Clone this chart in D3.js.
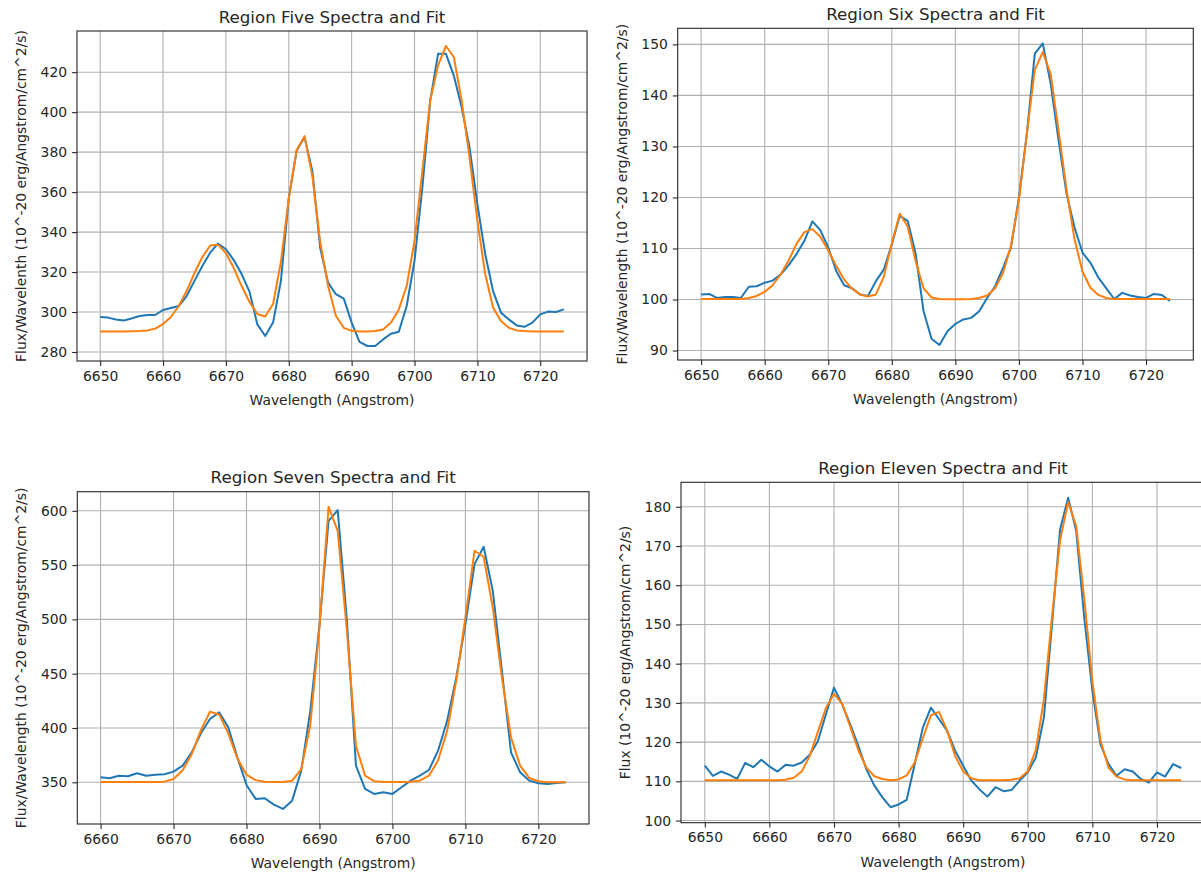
<!DOCTYPE html>
<html>
<head>
<meta charset="utf-8">
<script src="https://cdn.jsdelivr.net/npm/d3@7"></script>
<style>
  body { margin: 0; background: #fff; }
  svg { display: block; }
  text { font-family: "DejaVu Sans", sans-serif; fill: #262626; }
</style>
</head>
<body>
<svg id="fig" width="1201" height="878"></svg>
<script>
// Wavelength sampling (Angstrom), 1.25 A steps
const waveFull = [6650, 6651.25, 6652.5, 6653.75, 6655, 6656.25, 6657.5, 6658.75, 6660, 6661.25,
  6662.5, 6663.75, 6665, 6666.25, 6667.5, 6668.75, 6670, 6671.25, 6672.5, 6673.75,
  6675, 6676.25, 6677.5, 6678.75, 6680, 6681.25, 6682.5, 6683.75, 6685, 6686.25,
  6687.5, 6688.75, 6690, 6691.25, 6692.5, 6693.75, 6695, 6696.25, 6697.5, 6698.75,
  6700, 6701.25, 6702.5, 6703.75, 6705, 6706.25, 6707.5, 6708.75, 6710, 6711.25,
  6712.5, 6713.75, 6715, 6716.25, 6717.5, 6718.75, 6720, 6721.25, 6722.5, 6723.75];
const waveShort = [6660, 6661.25, 6662.5, 6663.75, 6665, 6666.25, 6667.5, 6668.75, 6670, 6671.25,
  6672.5, 6673.75, 6675, 6676.25, 6677.5, 6678.75, 6680, 6681.25, 6682.5, 6683.75,
  6685, 6686.25, 6687.5, 6688.75, 6690, 6691.25, 6692.5, 6693.75, 6695, 6696.25,
  6697.5, 6698.75, 6700, 6701.25, 6702.5, 6703.75, 6705, 6706.25, 6707.5, 6708.75,
  6710, 6711.25, 6712.5, 6713.75, 6715, 6716.25, 6717.5, 6718.75, 6720, 6721.25,
  6722.5, 6723.75];

// Region Five: observed spectrum and fitted model
const fiveSpectrum = [297.5, 297.2, 296.3, 295.8, 296.8, 298, 298.5, 298.5, 301, 302,
  303, 308, 315.6, 323, 329.7, 334.3, 331.4, 326, 319, 310.2,
  293.8, 288, 294.7, 315.6, 357, 380.7, 387.5, 370.5, 332, 314.7,
  308.9, 306.7, 294.7, 285.1, 283, 283, 286.3, 289.1, 290.1, 303,
  325.6, 362.4, 405.8, 429.2, 429.2, 418.3, 402.4, 382.4, 354, 328.9,
  310.5, 299.7, 296.3, 293.3, 292.6, 294.7, 298.8, 300.2, 300, 301.3];
const fiveFit = [290.3, 290.3, 290.3, 290.3, 290.4, 290.5, 290.8, 291.7, 294, 297.5,
  303, 310.5, 319.5, 327.5, 333.3, 333.7, 329.5, 322, 313, 305,
  299, 297.8, 304, 325, 357, 381, 388, 368, 335, 313,
  298, 292.1, 290.6, 290.3, 290.3, 290.5, 291.3, 294.7, 301.3, 313,
  335.6, 370.7, 405.8, 423.4, 433.1, 427.6, 405.8, 377.4, 345.6, 318.9,
  302.2, 295.5, 292.1, 290.8, 290.5, 290.3, 290.3, 290.3, 290.3, 290.3];

// Region Six
const sixSpectrum = [101, 101.1, 100.3, 100.5, 100.5, 100.3, 102.5, 102.6, 103.3, 103.7,
  104.9, 106.7, 108.9, 111.5, 115.3, 113.6, 110.2, 105.6, 102.8, 102.2,
  101, 100.7, 103.6, 105.9, 110.8, 116.4, 115.4, 109, 97.7, 92.3,
  91.1, 93.8, 95.2, 96.1, 96.4, 97.7, 100.3, 102.6, 106.2, 110.2,
  120, 132.5, 148.2, 150.2, 142.3, 131.1, 120.7, 114.1, 109.2, 107.2,
  104.3, 102.2, 100.1, 101.3, 100.8, 100.5, 100.3, 101.1, 100.9, 99.7];
const sixFit = [100.1, 100.1, 100.1, 100.1, 100.1, 100.1, 100.3, 100.7, 101.5, 102.8,
  104.9, 107.6, 110.9, 113.2, 113.8, 112.3, 109.6, 106.6, 103.9, 102.1,
  101, 100.6, 101, 104.5, 111, 116.8, 114.3, 107.5, 102.2, 100.4,
  100.1, 100.05, 100.05, 100.05, 100.1, 100.3, 100.8, 102.2, 105.2, 110.5,
  119.5, 132.5, 145, 148.5, 144.2, 133, 121.5, 111.8, 105.5, 102.3,
  100.9, 100.3, 100.1, 100.1, 100.1, 100.1, 100.1, 100.1, 100.1, 100.1];

// Region Seven (starts at 6660 A)
const sevenSpectrum = [354.6, 353.7, 356.1, 355.5, 358.3, 356.1, 357, 357.4, 359.8, 365.3,
  377.6, 395.1, 408.3, 414.4, 400.6, 373, 347.5, 334.7, 335.3, 329.4,
  325.5, 333.1, 360.7, 416, 495, 590.8, 600.6, 500, 365.3, 343.9,
  339.3, 340.8, 339.3, 345.4, 351.5, 356.1, 361.3, 379.1, 406.7, 446.6,
  495.7, 550.9, 566.9, 526.4, 452.8, 377.6, 359.2, 351.5, 349.1, 348.5,
  349.4, 350];
const sevenFit = [350.2, 350.2, 350.2, 350.2, 350.2, 350.2, 350.2, 350.6, 353, 361,
  376, 398, 415, 412.5, 395, 372, 357, 352, 350.6, 350.2,
  350.3, 351.5, 362, 403, 492.6, 603.7, 581.6, 490, 383.7, 356.1,
  351, 350.2, 350.2, 350.2, 350.4, 351.5, 356.1, 370, 397.5, 443.6,
  501.8, 563.2, 557.7, 511, 446.6, 391.4, 365.3, 354, 351, 350.1,
  350.1, 350.1];

// Region Eleven
const elevenSpectrum = [114, 111.4, 112.5, 111.7, 110.6, 114.7, 113.6, 115.5, 113.8, 112.5,
  114.2, 114, 114.8, 116.8, 120.2, 127.1, 133.9, 129.7, 124.6, 119.1,
  113.1, 108.9, 105.9, 103.4, 104.1, 105.3, 114.4, 123.7, 128.8, 125.9,
  122.9, 117.8, 114, 110.2, 108, 106.1, 108.5, 107.5, 107.8, 110.2,
  112.3, 116.1, 126.3, 150, 174.2, 182.3, 173.8, 151.7, 133.1, 119.5,
  114.4, 111.4, 113.1, 112.5, 110.6, 109.7, 112.3, 111.2, 114.4, 113.4];
const elevenFit = [110.3, 110.3, 110.3, 110.3, 110.3, 110.3, 110.3, 110.3, 110.3, 110.3,
  110.4, 110.9, 112.5, 116.5, 122.6, 128.7, 132.3, 129.8, 124, 118,
  113.5, 111.3, 110.6, 110.3, 110.5, 111.5, 114.8, 121, 126.8, 127.7,
  123, 116.5, 112.5, 110.8, 110.3, 110.3, 110.3, 110.3, 110.4, 110.8,
  112.6, 118, 131, 152, 171.5, 181.2, 175, 156.5, 135.5, 120.5,
  113.5, 111.2, 110.5, 110.3, 110.3, 110.3, 110.3, 110.3, 110.3, 110.3];

// Tick values
const xTicksFull = [6650, 6660, 6670, 6680, 6690, 6700, 6710, 6720];
const xTicksShort = [6660, 6670, 6680, 6690, 6700, 6710, 6720];
const fiveTicks = [280, 300, 320, 340, 360, 380, 400, 420];
const sixTicks = [90, 100, 110, 120, 130, 140, 150];
const sevenTicks = [350, 400, 450, 500, 550, 600];
const elevenTicks = [100, 110, 120, 130, 140, 150, 160, 170, 180];

const titles = ["Region Five Spectra and Fit", "Region Six Spectra and Fit",
  "Region Seven Spectra and Fit", "Region Eleven Spectra and Fit"];
const yLabels = ["Flux/Wavelenth (10^-20 erg/Angstrom/cm^2/s)",
  "Flux/Wavelength (10^-20 erg/Angstrom/cm^2/s)",
  "Flux/Wavelength (10^-20 erg/Angstrom/cm^2/s)",
  "Flux (10^-20 erg/Angstrom/cm^2/s)"];
const xLabel = "Wavelength (Angstrom)";

const panels = [
  { wave: waveFull, obs: fiveSpectrum, fit: fiveFit, xTicks: xTicksFull, yTicks: fiveTicks,
    box: { l: 77, r: 587, t: 31, b: 361 } },
  { wave: waveFull, obs: sixSpectrum, fit: sixFit, xTicks: xTicksFull, yTicks: sixTicks,
    box: { l: 677.7, r: 1193.3, t: 28.3, b: 360 } },
  { wave: waveShort, obs: sevenSpectrum, fit: sevenFit, xTicks: xTicksShort, yTicks: sevenTicks,
    box: { l: 77.3, r: 589, t: 491.7, b: 824 } },
  { wave: waveFull, obs: elevenSpectrum, fit: elevenFit, xTicks: xTicksFull, yTicks: elevenTicks,
    box: { l: 681, r: 1205, t: 482.3, b: 822.7 } }
];

const BLUE = "#1f77b4", ORANGE = "#ff7f0e", GRID = "#b0b0b0", INK = "#262626";
const svg = d3.select("#fig");

// matplotlib-style autoscale: 5% margin on each side of the data range
function padded(ext) {
  const m = (ext[1] - ext[0]) * 0.05;
  return [ext[0] - m, ext[1] + m];
}

panels.forEach((p, i) => {
  const { l, r, t, b } = p.box;
  const x = d3.scaleLinear().domain(padded(d3.extent(p.wave))).range([l, r]);
  const y = d3.scaleLinear().domain(padded(d3.extent(p.obs.concat(p.fit)))).range([b, t]);

  const g = svg.append("g");
  const clipId = "clip" + i;
  svg.append("clipPath").attr("id", clipId)
    .append("rect").attr("x", l).attr("y", t).attr("width", r - l).attr("height", b - t);

  // grid
  const grid = g.append("g").attr("clip-path", `url(#${clipId})`);
  grid.selectAll("line.gx").data(p.xTicks).join("line")
    .attr("x1", d => x(d)).attr("x2", d => x(d)).attr("y1", t).attr("y2", b)
    .attr("stroke", GRID).attr("stroke-width", 1.1);
  grid.selectAll("line.gy").data(p.yTicks).join("line")
    .attr("x1", l).attr("x2", r).attr("y1", d => y(d)).attr("y2", d => y(d))
    .attr("stroke", GRID).attr("stroke-width", 1.1);

  // spectrum and fit
  const line = d3.line().x((d, k) => x(p.wave[k])).y(d => y(d));
  const plot = g.append("g").attr("clip-path", `url(#${clipId})`);
  plot.append("path").datum(p.obs).attr("d", line)
    .attr("fill", "none").attr("stroke", BLUE).attr("stroke-width", 2)
    .attr("stroke-linejoin", "round");
  plot.append("path").datum(p.fit).attr("d", line)
    .attr("fill", "none").attr("stroke", ORANGE).attr("stroke-width", 2)
    .attr("stroke-linejoin", "round");

  // axes
  const xAxis = d3.axisBottom(x).tickValues(p.xTicks).tickSize(4.9).tickPadding(5)
    .tickFormat(d3.format("d"));
  const yAxis = d3.axisLeft(y).tickValues(p.yTicks).tickSize(4.9).tickPadding(5)
    .tickFormat(d3.format("d"));
  const gx = g.append("g").attr("transform", `translate(0,${b})`).call(xAxis);
  const gy = g.append("g").attr("transform", `translate(${l},0)`).call(yAxis);
  [gx, gy].forEach(ax => {
    ax.select(".domain").remove();
    ax.selectAll(".tick line").attr("stroke", INK).attr("stroke-width", 1.1);
    ax.selectAll(".tick text").attr("font-size", 13.9).attr("fill", INK)
      .style("font-family", '"DejaVu Sans", sans-serif');
  });

  // frame
  g.append("rect").attr("x", l).attr("y", t).attr("width", r - l).attr("height", b - t)
    .attr("fill", "none").attr("stroke", INK).attr("stroke-width", 1.1);

  // labels
  g.append("text").attr("x", (l + r) / 2).attr("y", t - 8.5)
    .attr("text-anchor", "middle").attr("font-size", 16.7).text(titles[i]);
  g.append("text").attr("x", (l + Math.min(r, 1205)) / 2).attr("y", b + 44)
    .attr("text-anchor", "middle").attr("font-size", 13.9).text(xLabel);
  g.append("text")
    .attr("transform", `translate(${l - 51},${(t + b) / 2}) rotate(-90)`)
    .attr("text-anchor", "middle").attr("font-size", 13.9).text(yLabels[i]);
});
</script>
</body>
</html>
